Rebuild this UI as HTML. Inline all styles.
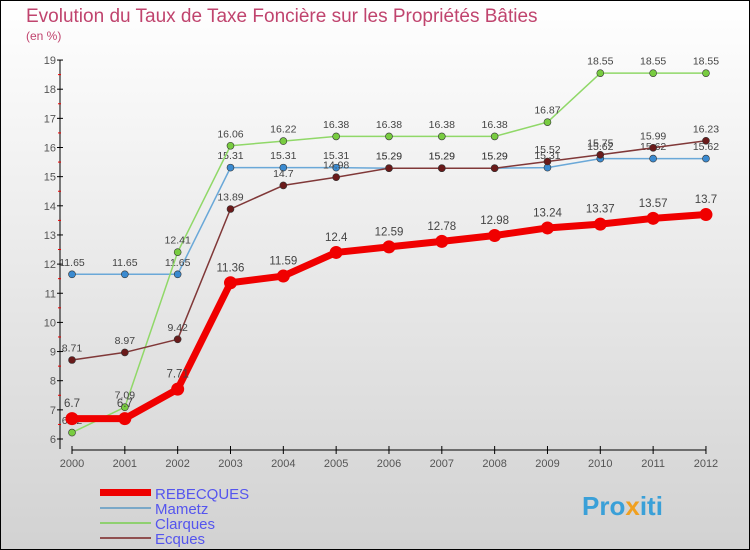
<!DOCTYPE html>
<html><head><meta charset="utf-8"><style>
body{margin:0;width:750px;height:550px;overflow:hidden;font-family:"Liberation Sans",sans-serif}
</style></head><body>
<svg width="750" height="550" style="display:block">
<defs><linearGradient id="bg" x1="0" y1="0" x2="0" y2="1"><stop offset="0" stop-color="#ffffff"/><stop offset="1" stop-color="#d2d2d2"/></linearGradient></defs>
<rect x="0.5" y="0.5" width="749" height="549" fill="url(#bg)" stroke="#000"/>
<text x="26" y="22" font-size="19" fill="#c0446e">Evolution du Taux de Taxe Foncière sur les Propriétés Bâties</text>
<text x="26" y="40" font-size="12" fill="#c0446e">(en %)</text>
<g id="axes"></g><g id="series"></g>
<g>
<rect x="100" y="489" width="51" height="7" fill="#e00"/>
<text x="155" y="499" font-size="15" fill="#5555ee">REBECQUES</text>
<rect x="100" y="507" width="51" height="2" fill="#7aa8c8"/>
<text x="155" y="514" font-size="15" fill="#5555ee">Mametz</text>
<rect x="100" y="522" width="51" height="2" fill="#8fd070"/>
<text x="155" y="529" font-size="15" fill="#5555ee">Clarques</text>
<rect x="100" y="537" width="51" height="2" fill="#905050"/>
<text x="155" y="544" font-size="15" fill="#5555ee">Ecques</text>
</g>
<text x="582" y="515" font-size="26" font-weight="bold" fill="#3aa0d8">Pro<tspan fill="#f0a020">x</tspan>iti</text>
</svg>
<script>
const years=[2000,2001,2002,2003,2004,2005,2006,2007,2008,2009,2010,2011,2012];
const yTicks=[6,7,8,9,10,11,12,13,14,15,16,17,18,19];
const rebecques=[6.7,6.7,7.71,11.36,11.59,12.4,12.59,12.78,12.98,13.24,13.37,13.57,13.7];
const mametz=[11.65,11.65,11.65,15.31,15.31,15.31,15.29,15.29,15.29,15.31,15.62,15.62,15.62];
const clarques=[6.22,7.09,12.41,16.06,16.22,16.38,16.38,16.38,16.38,16.87,18.55,18.55,18.55];
const ecques=[8.71,8.97,9.42,13.89,14.7,14.98,15.29,15.29,15.29,15.52,15.75,15.99,16.23];
const NS="http://www.w3.org/2000/svg";
const xS=i=>72+i*52.83;
const yS=v=>439-(v-6)*29.15;
function mk(tag,at,parent){const e=document.createElementNS(NS,tag);for(const k in at)e.setAttribute(k,at[k]);parent.appendChild(e);return e;}
const ax=document.getElementById('axes');
let l=mk('line',{x1:60,y1:yS(19),x2:60,y2:yS(6)+10,stroke:'#000'},ax);


yTicks.forEach(v=>{
  mk('line',{x1:57,x2:63,y1:yS(v),y2:yS(v),stroke:'#000'},ax);
  if(v<19)mk('line',{x1:58,x2:61,y1:yS(v+0.5),y2:yS(v+0.5),stroke:'#e00'},ax);
  const t=mk('text',{x:56,y:yS(v)+4,'font-size':11,'text-anchor':'end',fill:'#555'},ax);t.textContent=v;
  
  
});
l=mk('line',{x1:72,y1:450,x2:706,y2:450,stroke:'#000'},ax);


years.forEach((y,i)=>{
  mk('line',{x1:xS(i),x2:xS(i),y1:446,y2:454,stroke:'#000'},ax);
  const t=mk('text',{x:xS(i),y:467,'font-size':11,'text-anchor':'middle',fill:'#555'},ax);t.textContent=y;
  
  
});
const sg=document.getElementById('series');
function draw(name,vals,color,w,r,dot,fs){
  const g=mk('g',{},sg);
  
  
  const p=mk('polyline',{points:vals.map((v,i)=>xS(i)+','+yS(v)).join(' '),fill:'none',stroke:color,'stroke-width':w,'stroke-linejoin':'round'},g);
  
  
  vals.forEach((v,i)=>{
    const c=mk('circle',{cx:xS(i),cy:yS(v),r:r,fill:dot,stroke:'#333','stroke-width':r>4?0:0.6},g);
    
    
    const t=mk('text',{x:xS(i),y:yS(v)-(r+5),'font-size':fs,'text-anchor':'middle',fill:'#444'},g);t.textContent=v;
    
    
  });
}
draw('mametz',mametz,'#6aa8d8',1.5,3.5,'#3a8ad0',10.5);
draw('clarques',clarques,'#90d868',1.5,3.5,'#78cc40',10.5);
draw('ecques',ecques,'#803838',1.5,3.5,'#6a1a1a',10.5);
draw('rebecques',rebecques,'#f00000',7,6.5,'#f00000',11.5);
</script>
</body></html>
